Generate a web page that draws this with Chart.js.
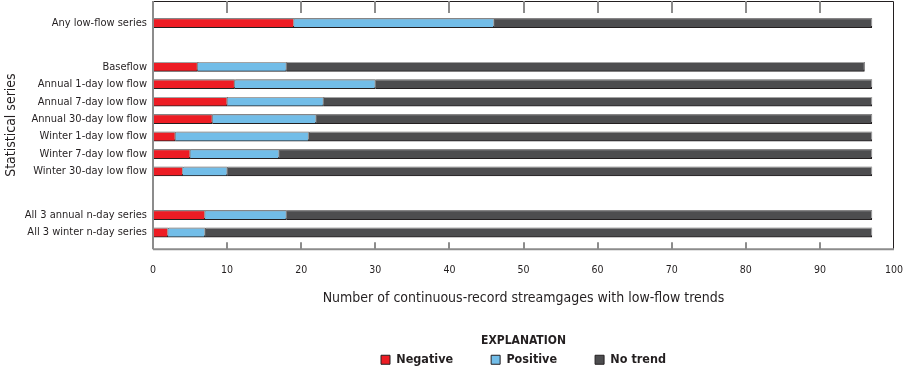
<!DOCTYPE html>
<html>
<head>
<meta charset="utf-8">
<script src="https://cdn.jsdelivr.net/npm/chart.js@4.4.0/dist/chart.umd.min.js"></script>
<style>
  html, body { margin: 0; padding: 0; background: #fff; }
  #wrap { width: 903px; height: 369px; }
</style>
</head>
<body>
<div id="wrap"><canvas id="myChart"></canvas></div>
<script>
const categories = [
  'Any low-flow series',
  'Baseflow',
  'Annual 1-day low flow',
  'Annual 7-day low flow',
  'Annual 30-day low flow',
  'Winter 1-day low flow',
  'Winter 7-day low flow',
  'Winter 30-day low flow',
  'All 3 annual n-day series',
  'All 3 winter n-day series',
];
const negative = [19, 6, 11, 10, 8, 3, 5, 4, 7, 2];
const positive = [27, 12, 19, 13, 14, 18, 12, 6, 11, 5];
const noTrend = [51, 78, 67, 74, 75, 76, 80, 87, 79, 90];
const xTicks = [0, 10, 20, 30, 40, 50, 60, 70, 80, 90, 100];

// row positions (row units), leaves the gaps between the groups
const rowPos = [0, 2.5, 3.5, 4.5, 5.5, 6.5, 7.5, 8.5, 11, 12];

const font = "'Liberation Sans Narrow', 'DejaVu Sans Condensed', 'Roboto', sans-serif";
const ink = '#231f20';

const toPoints = (arr) => arr.map((v, i) => ({ x: v, y: rowPos[i] }));

const makeSet = (label, values, color) => ({
  label,
  data: toPoints(values),
  backgroundColor: color,
  borderColor: ink,
  borderWidth: 1,
  barThickness: 9,
  stack: 'trend',
});

// light grey edge above the bars, like the printed figure
const barEdge = {
  id: 'barEdge',
  beforeDatasetsDraw(chart) {
    const c = chart.ctx;
    c.save();
    c.shadowColor = '#a3a3a3';
    c.shadowOffsetX = 1;
    c.shadowOffsetY = -1;
    c.shadowBlur = 0;
  },
  afterDatasetsDraw(chart) {
    chart.ctx.restore();
  },
};

// frame round the plot + the inward ticks on top and bottom
const frame = {
  id: 'frame',
  afterDatasetsDraw(chart) {
    const { ctx, chartArea: a, scales: { x } } = chart;
    ctx.save();
    ctx.shadowColor = 'transparent';
    ctx.strokeStyle = ink;
    ctx.lineWidth = 1;
    ctx.beginPath();
    ctx.moveTo(a.left, a.top + 0.5);
    ctx.lineTo(a.right - 0.5, a.top + 0.5);
    ctx.lineTo(a.right - 0.5, a.bottom);
    ctx.stroke();
    ctx.strokeStyle = '#8c8c8c';
    ctx.lineWidth = 2;
    ctx.beginPath();
    ctx.moveTo(a.left, a.bottom);
    ctx.lineTo(a.right, a.bottom);
    ctx.moveTo(a.left, a.top);
    ctx.lineTo(a.left, a.bottom);
    xTicks.forEach((v) => {
      if (v === 0 || v === 100) return;
      const px = Math.round(x.getPixelForValue(v));
      ctx.moveTo(px, a.top);
      ctx.lineTo(px, a.top + 12);
      ctx.moveTo(px, a.bottom);
      ctx.lineTo(px, a.bottom - 7);
    });
    ctx.stroke();
    ctx.restore();
  },
};

const ctx = document.getElementById('myChart').getContext('2d');

const myChart = new Chart(ctx, {
  type: 'bar',
  data: {
    datasets: [
      makeSet('Negative', negative, '#ed1c24'),
      makeSet('Positive', positive, '#72bde8'),
      makeSet('No trend', noTrend, '#4d4d4f'),
    ],
  },
  options: {
    indexAxis: 'y',
    responsive: true,
    maintainAspectRatio: false,
    animation: false,
    layout: { padding: { top: 1, right: 9, bottom: -7, left: 0 } },
    scales: {
      x: {
        type: 'linear',
        stacked: true,
        min: 0,
        max: 100,
        grid: { display: false },
        border: { display: false },
        afterBuildTicks: (s) => { s.ticks = xTicks.map((v) => ({ value: v })); },
        afterFit: (s) => { s.paddingLeft = 0; s.paddingRight = 0; },
        ticks: { color: ink, padding: 6.5, font: { family: font, size: 10.5 } },
        title: {
          display: true,
          text: 'Number of continuous-record streamgages with low-flow trends',
          color: ink,
          font: { family: font, size: 14 },
          padding: { top: 7.5, bottom: 28 },
        },
      },
      y: {
        type: 'linear',
        stacked: true,
        reverse: true,
        offset: false,
        bounds: 'data',
        min: -1.27,
        max: 12.95,
        grid: { display: false, drawTicks: false, offset: false },
        border: { display: false },
        afterBuildTicks: (s) => { s.ticks = rowPos.map((v) => ({ value: v })); },
        afterFit: (s) => { s.width = 153; s.paddingTop = 0; s.paddingBottom = 0; },
        ticks: {
          autoSkip: false,
          color: ink,
          padding: 6,
          font: { family: font, size: 11 },
          callback: (v, i) => categories[i],
        },
        title: {
          display: true,
          text: 'Statistical series',
          color: ink,
          font: { family: font, size: 14 },
          padding: { top: 3, bottom: 0 },
        },
      },
    },
    plugins: {
      tooltip: { enabled: false },
      legend: {
        position: 'bottom',
        fullSize: false,
        title: {
          display: true,
          text: 'EXPLANATION',
          color: ink,
          font: { family: font, size: 12, weight: 'bold' },
          padding: { top: 0, bottom: -34 },
        },
        labels: {
          color: ink,
          boxWidth: 9,
          boxHeight: 9,
          padding: 38,
          font: { family: font, size: 12.5, weight: 'bold' },
        },
      },
    },
  },
  plugins: [barEdge, frame],
});
</script>
</body>
</html>
